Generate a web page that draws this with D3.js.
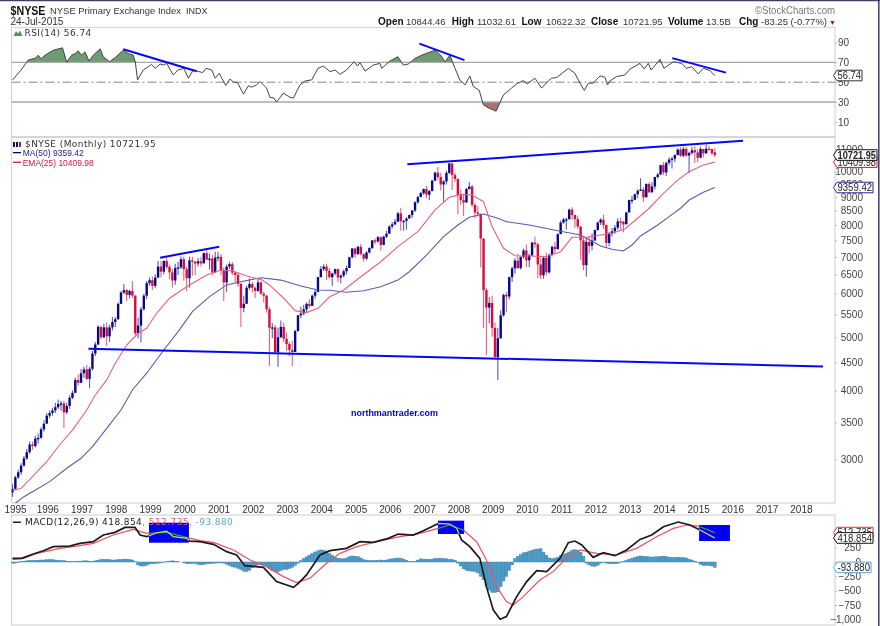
<!DOCTYPE html>
<html><head><meta charset="utf-8"><style>
html,body{margin:0;padding:0;background:#fff}
svg{display:block}
text{font-family:"Liberation Sans",Arial,sans-serif}
.leg{font-family:"DejaVu Sans",Verdana,sans-serif;font-size:9px;letter-spacing:.42px}
.ax text{font-size:10px;fill:#444;text-anchor:end}
.ax path{display:none}
.ax line{stroke:#bbb}
</style></head><body>
<script src="https://cdn.jsdelivr.net/npm/d3@7"></script>
<script>
const closes=[2650,2780,2840,2920,3010,3090,3190,3170,3270,3280,3400,3480,
3600,3640,3680,3730,3780,3790,3650,3750,3880,3960,4180,4130,
4300,4370,4200,4380,4670,4850,5220,5000,5210,5020,5210,5330,
5390,5750,6030,6090,5970,6070,5950,5080,5250,5620,5950,6270,
6350,6200,6420,6720,6580,6880,6710,6560,6340,6680,6700,6930,
6650,6400,6900,6860,6810,6870,6810,7110,6920,6950,6560,6980,
7000,6600,6290,6720,6790,6550,6490,6250,5650,5750,6150,6250,
6150,6070,6290,6000,5950,5620,5200,5210,4700,5000,5220,4970,
4860,4740,4700,5130,5480,5520,5620,5750,5700,5950,6040,6430,
6650,6720,6600,6430,6530,6650,6420,6470,6590,6680,6990,7250,
7080,7300,7080,6950,7130,7260,7500,7470,7600,7360,7620,7710,
7950,8020,8110,8400,8130,8140,8220,8340,8500,8800,8990,9140,
9300,9080,9220,9630,9960,9780,9480,9600,9950,10350,9860,9700,
9060,8880,8790,9300,9400,8700,8430,8380,7560,6090,5660,5770,
5200,4600,4980,5480,5970,5930,6430,6670,6890,6680,7000,7190,
6900,7040,7430,7380,6780,6480,6970,6560,7060,7300,7230,7700,
8080,8190,8190,8530,8340,8200,7950,7500,6760,7450,7330,7500,
7830,8080,8180,8000,7420,7730,7790,7910,8120,8110,8020,8430,
8880,8890,9100,9230,9280,8980,9500,9170,9400,9780,9880,10280,
9970,10380,10520,10560,10720,10970,10690,11000,10700,10820,10940,10840,
10600,11000,10800,11010,11000,10805,10721.95];
const highs=[2700,2800,2870,2950,3040,3130,3230,3230,3310,3340,3430,3530,
3640,3680,3720,3800,3850,3830,3830,3800,3920,4000,4220,4280,
4370,4420,4450,4420,4720,4900,5260,5240,5290,5320,5270,5440,
5440,5780,6060,6250,6120,6100,6330,5960,5430,5680,6000,6330,
6420,6450,6510,6880,6870,6900,6980,6770,6650,6800,6860,7010,
7000,6720,7000,7000,6880,6970,7000,7130,7200,7100,7060,7150,
7150,7090,6700,6780,6860,6850,6580,6560,6280,5950,6200,6400,
6300,6180,6400,6320,6050,5970,5670,5310,5260,5200,5360,5310,
5100,4900,4920,5160,5490,5680,5720,5780,5860,5980,6100,6430,
6730,6790,6800,6680,6550,6660,6660,6500,6630,6750,7000,7260,
7280,7330,7390,7100,7170,7290,7510,7560,7640,7620,7650,7800,
7990,8100,8200,8460,8600,8170,8260,8360,8520,8840,9030,9190,
9320,9420,9260,9660,10000,10200,9960,9650,10040,10380,10370,9950,
9720,9280,9060,9340,9580,9460,8760,8650,8390,7560,6150,5920,
5950,5320,5200,5600,6000,6040,6440,6720,6960,7090,7010,7250,
7370,7090,7460,7620,7430,6980,7010,7120,7090,7340,7460,7720,
8150,8250,8250,8570,8620,8350,8320,7960,7590,7600,7620,7720,
7850,8120,8230,8360,8020,7780,7900,8000,8230,8250,8140,8460,
8900,9040,9130,9290,9730,9370,9520,9570,9570,9790,9950,10300,
10400,10430,10620,10650,10760,11030,11080,11100,11100,10870,11100,11120,
10990,11100,11000,11200,11150,11000,11032.61];
const lows=[2560,2640,2760,2810,2910,2990,3070,3120,3150,3200,3270,3370,
3500,3560,3600,3640,3700,3680,3420,3620,3700,3860,3960,4080,
4150,4220,4180,4040,4350,4620,4840,4960,4980,4820,4900,5140,
5220,5380,5750,5990,5810,5880,5890,5020,4980,4890,5590,5870,
6200,6090,6140,6400,6420,6500,6650,6380,6150,6230,6490,6650,
6340,6060,6150,6470,6490,6720,6720,6850,6900,6640,6480,6560,
6870,6480,5820,6050,6650,6480,6280,6180,5220,5550,5770,6100,
6030,5890,6050,5980,5780,5540,4430,4980,4680,4420,4980,4900,
4720,4620,4430,4700,5120,5420,5480,5550,5650,5700,5880,6040,
6430,6600,6350,6400,6200,6480,6300,6270,6420,6500,6680,6950,
6970,7060,7040,6860,6910,7100,7240,7380,7430,7180,7350,7570,
7750,7880,7990,8100,7810,7810,7850,8210,8250,8450,8740,8990,
9080,8950,8870,9210,9620,9650,9240,8820,9480,9900,9260,9580,
8370,8700,8310,8790,9280,8630,8230,8280,6700,5190,4640,5300,
5010,4600,4180,4960,5450,5550,5860,6300,6520,6650,6640,6950,
6700,6700,7030,7280,6410,6380,6390,6480,6530,7010,7090,7220,
7700,8040,7850,8230,8170,7910,7870,6900,6620,6440,7100,7200,
7480,7820,8000,7870,7270,7320,7620,7710,7840,7850,7760,8050,
8440,8740,8880,8950,9230,8820,9000,9160,9180,9280,9720,9870,
9860,9820,10280,10130,10400,10720,10640,10620,10650,9950,10740,10370,
10400,10590,10620,10780,10960,10710,10622.32];
const firstOpen=2610, lastOpen=10844.46;

const maMonths=[1,4,7,13,19,24,28,33,38,42,47,53,58,63,69,75,80,87,94,101,107,111,117,123,129,135,139,145,151,156,160,165,170,173,181,191,199,206,210,214,217,220,226,230,234,237,242,246];
const maValues=[2494,2564,2618,2731,2888,3011,3161,3414,3686,4009,4300,4739,5117,5565,5926,6224,6307,6415,6351,6195,6093,6085,6035,6075,6177,6351,6578,7054,7618,8000,8261,8378,8228,8112,8000,7811,7672,7327,7225,7175,7357,7641,8000,8286,8581,8882,9174,9359.42];
const emaMonths=[0,3,7,12,17,21,26,29,33,36,40,44,47,50.5,55,61,68,73,77,82,87,90,95,99,103,107,111,116,122,129,135,142,148,153,157,161,165,168,172,176,181,187,192,196,201,206,210,214.5,219,223,228,233,237,242,246];
const emaValues=[2629,2655,2788,2970,3207,3389,3686,3926,4181,4484,4839,5083,5190,5527,5886,6177,6487,6626,6606,6460,6371,6224,5886,5588,5542,5644,5915,6093,6440,6859,7305,7778,8521,8985,9095,9070,8819,7942,7256,7034,7025,7006,7153,7597,7597,7672,7726,7866,8228,8581,9136,9656,10000,10284,10409.98];

const rsiMonths=[0,3,5.5,8,9,10,11.4,14.3,17.5,19,20.7,22,23,24.2,25.4,26.8,28.3,30.7,31.8,34,36,38.8,40.6,42.3,43,43.8,45.8,47.6,48.7,50,51.7,53,54,56.3,58,60,61.6,63.3,66.6,67.8,69.8,71,72.4,74.7,76.2,77.4,78.8,80.9,82.6,83.8,85.5,86.7,89,90.2,91.6,92.5,94.9,97.2,98.4,100.7,102.5,104.8,107,108.9,111.2,113,114.7,117,119.6,120.8,121.7,123.5,126.4,128.7,129.3,132.2,135,136.9,138.6,141,143.3,148,150,151.5,153.2,155,156.7,158.5,160.2,161.4,163.5,164.9,166.7,169.4,172,174.8,176.6,178.9,180.3,183,185.3,187.7,188.8,190.6,194.7,197,198.8,200.3,201.7,203.4,205.8,207.5,208.4,209.3,211.6,214.5,216.3,219.8,221.3,222.7,223.7,226.8,228.2,231.5,234.4,236.1,237.9,240.2,242,244.3,246];
const rsiValues=[52.3,62.3,72.3,74.3,77.3,73.7,77.3,82.3,84.7,70.3,77.3,79,81.7,77.3,80.7,71.3,77.3,83.7,75.7,70.7,75,82.3,79,77.3,70.7,52.3,62.3,65.7,68,64,68.3,67.3,69,57.3,62.3,64,54,62.3,59.7,64,62.3,54,59,46.7,53.3,50,49.7,38,46.3,45,47.3,50.7,44,34.7,34,30,39,34.7,34,47.3,51.3,52.3,64,66.3,60.7,62.3,58,62.3,70.7,66.3,69.7,61.3,67.3,69,64,71.3,75.7,67.3,68.3,74,77.3,82.3,77.3,70.7,77.3,64,52.3,47.3,56.3,45.7,41.7,27.3,24,20.7,37.3,44,48.3,51.7,48.3,54,44,51.3,54,54.7,64,59,49,41.7,49,49,56.3,55,47.3,51.3,55.7,57.3,63.3,69,63.3,69,62.3,73,64,70.7,69,64,65.7,58.3,64,61.7,56.74];

const macdMonths=[0,3.2,7.3,10.8,14.3,20,23.6,28.3,31.8,35.9,39.4,42.9,44.7,47,50.5,54,56.3,61,62.2,65.7,70.4,75,78.5,81.4,87.9,92.5,98.4,100.1,103,107.7,111.2,117,121.7,126.4,131.6,135.1,140.4,143.9,149.2,153.2,155.6,157.3,160.2,163.7,166,168.4,170.8,173,176.6,180.1,183.6,187.1,191.8,194.7,197,199.4,203.4,206.9,211,215.1,219.8,223.9,228,233.2,237.3,240.8,246];
const macdValues=[64,64,139,197,267,278,325,354,470,516,603,603,470,441,510,539,441,412,365,354,307,180,122,-64,-93,-342,-441,-371,-226,122,197,238,354,342,412,487,470,545,673,661,586,383,267,64,-429,-835,-998,-951,-603,-342,-151,-168,64,336,365,296,81,162,110,209,394,470,615,696,644,557,418.854];
const signalMonths=[0,3.8,8.5,16.6,22.5,28.3,35.3,42.3,47,54,61,65.7,70.4,77.4,83.2,89,94.9,99.5,104.2,110,114.7,120.6,127.6,135.7,141.6,149.2,153.2,157.9,162.6,166,169.6,173,175.4,178.9,184.7,189.4,194,198.8,204.6,211.6,218.6,225.6,231.5,236.1,240.2,246];
const signalValues=[46,64,151,238,278,325,470,568,499,516,429,371,342,209,35,-81,-255,-360,-284,-23,151,267,354,441,487,586,644,557,354,35,-429,-690,-748,-603,-313,-168,64,209,151,122,238,441,586,644,626,512.735];
const histValues=[-20,-20,-10,10,15,20,25,25,30,30,35,35,
40,40,40,35,30,25,25,15,10,5,5,10,
15,20,20,15,10,20,30,40,45,45,40,35,
35,40,45,50,50,40,35,10,-50,-70,-70,-55,
-35,-30,-25,-20,-15,-5,5,15,20,15,10,0,
-15,-30,-30,-25,-25,-40,-50,-45,-30,-30,-25,-20,
-15,-15,-20,-40,-60,-85,-90,-110,-135,-160,-165,-145,
-100,-70,-50,-50,-60,-80,-120,-150,-170,-170,-150,-130,
-130,-115,-95,-60,-20,25,60,90,120,150,175,195,
210,205,190,150,120,85,65,60,55,70,95,105,
100,95,70,40,30,25,25,30,30,35,25,35,
45,55,65,70,65,50,25,10,5,10,35,55,
50,50,45,50,60,65,65,60,55,45,45,30,
-20,-70,-120,-145,-155,-160,-165,-190,-250,-310,-420,-490,
-530,-530,-520,-430,-330,-250,-150,-50,60,100,130,160,
170,190,205,220,225,230,170,120,70,60,65,85,
110,130,150,175,205,215,200,170,100,-20,-50,-70,
-75,-55,-20,-5,-20,-30,-30,-30,-25,-10,10,30,
50,65,80,95,105,100,95,90,85,90,90,100,
100,95,85,80,80,85,75,75,70,50,35,15,
-5,-40,-60,-60,-60,-70,-93.88];

const yearLabels=[1995,1996,1997,1998,1999,2000,2001,2002,2003,2004,2005,2006,2007,2008,2009,2010,2011,2012,2013,2014,2015,2016,2017,2018];
const priceTicks=[11000,10000,9500,9000,8500,8000,7500,7000,6500,6000,5500,5000,4500,4000,3500,3000];
const rsiTicks=[90,70,50,30,10];
const macdTicks=[250,0,-250,-500,-750,-1000];
// trendlines as [month, value] pairs
const rsiTrends=[[38.8,83.3,64.5,61],[142.5,89,158.3,72.3],[231.1,74.3,249.9,59.7]];
const priceTrends=[[51.7,6976,72.4,7305],[138.3,10315,255.9,11386],[26.6,4765,283.9,4423]];
// highlighted boxes on the MACD panel: month from/to, value top/bottom
const macdBoxes=[[47.8,61.8,685,336],[149,158.2,720,488],[240.5,251.3,645,366]];

const W=880,H=626,L=11.5,R=835;
const x=d3.scaleLinear().domain([0,246]).range([12.5,714.8]);
const yRsi=d3.scaleLinear().domain([70,30]).range([62.4,102]);
const yP=d3.scaleLog().domain([2497,11564]).range([503,137]);
const yM=d3.scaleLinear().domain([0,-1000]).range([562,619.4]);

const svgRoot=d3.select("body").append("svg").attr("width",W).attr("height",H);
const defs=svgRoot.append("defs");
defs.append("filter").attr("id","soft").attr("filterUnits","userSpaceOnUse").attr("x",0).attr("y",0).attr("width",W).attr("height",H)
  .attr("color-interpolation-filters","sRGB").append("feGaussianBlur").attr("stdDeviation",.38);
const svg=svgRoot.append("g").attr("filter","url(#soft)");
svg.append("rect").attr("width",W).attr("height",H).attr("fill","#fff");
function clip(id,a,b,c,d){defs.append("clipPath").attr("id",id).append("rect").attr("x",a).attr("y",b).attr("width",c-a).attr("height",d-b);return `url(#${id})`;}

// frame
svg.append("line").attr("x1",0).attr("x2",W).attr("y1",.5).attr("y2",.5).attr("stroke","#3c3c6e").attr("stroke-width",1.5);
svg.append("line").attr("x1",878.8).attr("x2",878.8).attr("y1",0).attr("y2",H).attr("stroke","#3c3c6e").attr("stroke-width",1.5);
[[27.5,136.5],[137.5,503],[515,625]].forEach(([t,b])=>{
  svg.append("rect").attr("x",L).attr("y",t).attr("width",R-L).attr("height",b-t).attr("fill","#fff").attr("stroke","#d6d6d6").attr("stroke-width",1.2);
});

// ---- header
const T=(s,xx,yy,o={})=>{const t=svg.append("text").attr("x",xx).attr("y",yy).text(s).attr("font-size",o.size||10).attr("fill",o.fill||"#222");
  if(o.bold)t.attr("font-weight","bold");if(o.cls)t.attr("class",o.cls);if(o.len)t.attr("textLength",o.len).attr("lengthAdjust","spacingAndGlyphs");if(o.anchor)t.attr("text-anchor",o.anchor);return t;};
T("$NYSE",10.5,14.5,{size:13,bold:true,len:35,fill:"#111"});
T("NYSE Primary Exchange Index",50,13.5,{size:9.5,fill:"#333",len:131});
T("INDX",186,13.5,{size:9,fill:"#333"});
T("24-Jul-2015",10.5,25,{size:10,fill:"#333"});
[["Open",378,"10844.46",406],["High",451.7,"11032.61",477],["Low",521.5,"10622.32",546],["Close",591,"10721.95",623],["Volume",668,"13.5B",706],["Chg",739,"-83.25 (-0.77%)",761]].forEach(([a,ax,b,bx])=>{
  T(a,ax,25,{bold:true,size:10,fill:"#111"});T(b,bx,25,{size:9.5,fill:"#333"});
});
T("▼",829,25,{size:7,fill:"#a0103c"});
T("©StockCharts.com",755,14,{size:10.5,fill:"#777",len:80});

// ---- RSI
const rsiPanel=svg.append("g");
const rsiClipTop=clip("rsiTop",L,27,R,yRsi(70));
const rsiClipBot=clip("rsiBot",L,yRsi(30),R,136);
const rsiPairs=rsiMonths.map((m,i)=>[m,rsiValues[i]]);
const rsiArea=b=>d3.area().x(d=>x(d[0])).y0(yRsi(b)).y1(d=>yRsi(d[1]));
rsiPanel.append("path").attr("d",rsiArea(70)(rsiPairs)).attr("fill","#6f9a72").attr("clip-path",rsiClipTop);
rsiPanel.append("path").attr("d",rsiArea(30)(rsiPairs)).attr("fill","#a8736b").attr("clip-path",rsiClipBot);
[70,30].forEach(v=>rsiPanel.append("line").attr("x1",L).attr("x2",R).attr("y1",yRsi(v)).attr("y2",yRsi(v)).attr("stroke","#a8a8a8").attr("stroke-width",1.3));
rsiPanel.append("line").attr("x1",L).attr("x2",R).attr("y1",yRsi(50)).attr("y2",yRsi(50)).attr("stroke","#777").attr("stroke-width",.9).attr("stroke-dasharray","9 3 2 3");
rsiPanel.append("path").attr("d",d3.line().x(d=>x(d[0])).y(d=>yRsi(d[1]))(rsiPairs)).attr("fill","none").attr("stroke","#444").attr("stroke-width",1);
rsiPanel.selectAll(".tr").data(rsiTrends).join("line").attr("x1",d=>x(d[0])).attr("y1",d=>yRsi(d[1])).attr("x2",d=>x(d[2])).attr("y2",d=>yRsi(d[3])).attr("stroke","#0505ff").attr("stroke-width",2);
svg.append("path").attr("d","M13.5 36 L16 31 L18 33.5 L20 30.5 L22.5 36 Z").attr("fill","#5f8a62");
T("RSI(14) 56.74",24.5,36,{cls:"leg",fill:"#333"});
svg.append("g").attr("class","ax").attr("transform",`translate(${R},0)`).call(d3.axisRight(yRsi).tickValues(rsiTicks).tickSize(2).tickPadding(0)).selectAll("text").attr("x",14);

// ---- price
const pClip=clip("pc",L,137.5,R,503);
const pg=svg.append("g").attr("clip-path",pClip);
const opens=closes.map((c,i)=>i===0?firstOpen:i===closes.length-1?lastOpen:closes[i-1]);
const idx=d3.range(closes.length);
const col=i=>closes[i]>=opens[i];
pg.selectAll(".w").data(idx).join("line").attr("x1",i=>x(i)).attr("x2",i=>x(i)).attr("y1",i=>yP(highs[i])).attr("y2",i=>yP(lows[i]))
  .attr("stroke",i=>col(i)?"#5a5ab0":"#e8607e").attr("stroke-width",1.1);
pg.selectAll(".b").data(idx).join("rect").attr("x",i=>x(i)-1.2).attr("width",2.4)
  .attr("y",i=>Math.min(yP(opens[i]),yP(closes[i]))).attr("height",i=>Math.max(1.4,Math.abs(yP(opens[i])-yP(closes[i]))))
  .attr("fill",i=>col(i)?"#07078a":"#d80c3c");
const pLine=d3.line().x(d=>x(d[0])).y(d=>yP(d[1]));
pg.append("path").attr("d",pLine(maMonths.map((m,i)=>[m,maValues[i]]))).attr("fill","none").attr("stroke","#5a5cae").attr("stroke-width",1.1);
pg.append("path").attr("d",pLine(emaMonths.map((m,i)=>[m,emaValues[i]]))).attr("fill","none").attr("stroke","#e8617c").attr("stroke-width",1.1);
pg.selectAll(".tr").data(priceTrends).join("line").attr("x1",d=>x(d[0])).attr("y1",d=>yP(d[1])).attr("x2",d=>x(d[2])).attr("y2",d=>yP(d[3])).attr("stroke","#0505ff").attr("stroke-width",2);
svg.append("g").attr("class","ax").attr("transform",`translate(${R},0)`).call(d3.axisRight(yP).tickValues(priceTicks).tickFormat(d3.format("d")).tickSize(2).tickPadding(0)).selectAll("text").attr("x",28);
[[0,"#0c0c8c"],[3,"#0c0c8c"],[6,"#d5103f"]].forEach(([dx,c])=>svg.append("rect").attr("x",13+dx).attr("y",142).attr("width",2).attr("height",5).attr("fill",c));
T("$NYSE (Monthly) 10721.95",25,146.8,{cls:"leg",fill:"#333"});
svg.append("rect").attr("x",13).attr("y",152).attr("width",8).attr("height",1.3).attr("fill","#00008b");
T("MA(50) 9359.42",22.7,155.8,{size:9,fill:"#1a1a96",len:61});
svg.append("rect").attr("x",13).attr("y",161.6).attr("width",8).attr("height",1.3).attr("fill","#dc143c");
T("EMA(25) 10409.98",22.7,165.5,{size:9,fill:"#dc143c",len:71});
T("northmantrader.com",351,416,{size:8.5,bold:true,fill:"#0000cc",len:87});

// ---- x axis
svg.append("g").selectAll("text").data(yearLabels).join("text")
  .attr("x",d=>x((d-1995)*12)+(d===1995?3:1)).attr("y",513).attr("text-anchor","middle").attr("font-size",10).attr("fill","#333").text(d=>d);

// ---- MACD
const mClip=clip("mc",L,515,R,625);
const mg=svg.append("g").attr("clip-path",mClip);
mg.selectAll(".h").data(histValues).join("rect").attr("x",(d,i)=>x(i)-1.43).attr("width",2.86)
  .attr("y",d=>Math.min(yM(d),yM(0))).attr("height",d=>Math.abs(yM(d)-yM(0)))
  .attr("fill","#4f9cc8").attr("stroke","#2f7eaa").attr("stroke-width",.4);
const mLine=d3.line().x(d=>x(d[0])).y(d=>yM(d[1]));
const macdPts=macdMonths.map((m,i)=>[m,macdValues[i]]), sigPts=signalMonths.map((m,i)=>[m,signalValues[i]]);
mg.append("path").attr("d",mLine(sigPts)).attr("fill","none").attr("stroke","#f0505e").attr("stroke-width",1.2);
mg.append("path").attr("d",mLine(macdPts)).attr("fill","none").attr("stroke","#1a1a1a").attr("stroke-width",1.7);
macdBoxes.forEach((b,k)=>{
  const a=x(b[0]),c=x(b[1]),t=yM(b[2]),u=yM(b[3]);
  mg.append("rect").attr("x",a).attr("y",t).attr("width",c-a).attr("height",u-t).attr("fill","#0000f5");
  const cp=clip("bx"+k,a,t,c,u);
  mg.append("path").attr("d",mLine(sigPts)).attr("fill","none").attr("stroke","#22a84a").attr("stroke-width",1.2).attr("clip-path",cp);
  mg.append("path").attr("d",mLine(macdPts)).attr("fill","none").attr("stroke","#e8e020").attr("stroke-width",1.2).attr("clip-path",cp);
});
svg.append("g").attr("class","ax").attr("transform",`translate(${R},0)`).call(d3.axisRight(yM).tickValues(macdTicks).tickSize(2).tickPadding(0)).selectAll("text").attr("x",26);
svg.append("rect").attr("x",13).attr("y",521.5).attr("width",8).attr("height",1.4).attr("fill","#111");
const ml=svg.append("text").attr("class","leg").attr("x",25).attr("y",525);
ml.append("tspan").attr("fill","#222").text("MACD(12,26,9) 418.854");
ml.append("tspan").attr("fill","#f0505e").text(", 512.735");
ml.append("tspan").attr("fill","#5aa8d8").text(", -93.880");

// ---- value tags
function tag(yy,txt,stroke,right,bold){
  const g=svg.append("g"),l=837,h=5.3;
  g.append("path").attr("d",`M${l-3.5} ${yy} L${l} ${yy-h} L${right} ${yy-h} L${right} ${yy+h} L${l} ${yy+h} Z`).attr("fill","#fff").attr("stroke",stroke).attr("stroke-width",1);
  g.append("text").attr("x",l+.5).attr("y",yy+3.6).attr("font-size",bold?11:10.3).attr("font-weight",bold?"bold":null).attr("fill","#222")
   .attr("textLength",right-l-1.5).attr("lengthAdjust","spacingAndGlyphs").text(txt);
}
tag(yRsi(56.74),"56.74","#333",862);
tag(yP(9359.42),"9359.42","#2222a0",873);
tag(yP(10409.98),"10409.98","#dc143c",877);
tag(yP(10721.95),"10721.95","#111",877,true);
tag(yM(512.735),"512.735","#e83030",873);
tag(yM(418.854),"418.854","#111",873);
tag(yM(-93.88),"-93.880","#5aa0d0",871);
</script></body></html>
